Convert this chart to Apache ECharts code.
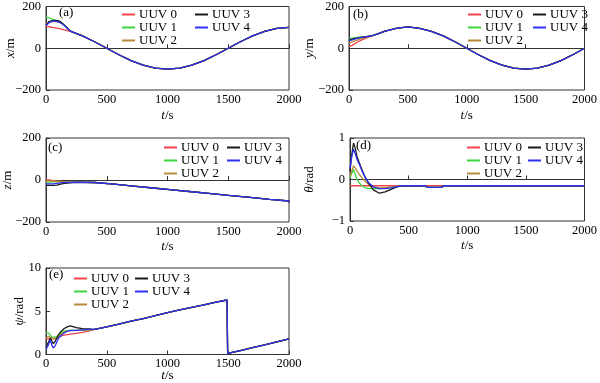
<!DOCTYPE html>
<html>
<head>
<meta charset="utf-8">
<script src="https://cdn.jsdelivr.net/npm/echarts@6/dist/echarts.min.js"></script>
<style>html,body{margin:0;padding:0;background:#fff;}#c{width:600px;height:383px;}</style>
</head>
<body>
<div id="c"></div>
<script>
// ---------- DATA ----------
const names = ['UUV 0', 'UUV 1', 'UUV 2', 'UUV 3', 'UUV 4'];
const colors = ['#f0454b', '#3ad83a', '#b58a3a', '#1a1a1a', '#3030f0'];
const xTicks = [0, 500, 1000, 1500, 2000];

// (a) x/m
const tA = [0, 25, 50, 75, 100, 125, 150, 175, 200];
const xA0 = [105, 103, 100, 98, 95, 92, 88, 85, 81];
const xA1 = [148, 146, 140, 135, 130, 122, 112, 98, 83];
const xA2 = [118, 125, 128, 128, 126, 120, 110, 97, 82];
const xA3 = [110, 128, 132, 133, 132, 125, 112, 97, 82];
const xA4 = [108, 122, 130, 130, 127, 120, 110, 96, 82];
const tAT = [300, 400, 500, 600, 700, 800, 900, 1000, 1100, 1200, 1300, 1400, 1500, 1600, 1700, 1800, 1900, 2000];
const xAT = [59, 31, 0, -31, -59, -81, -95, -100, -95, -81, -59, -31, 0, 31, 59, 81, 95, 100];

// (b) y/m
const tB = [0, 25, 50, 75, 100, 150, 200, 250];
const yB0 = [8, 14, 22, 30, 38, 50, 60, 70];
const yB1 = [45, 48, 50, 52, 54, 57, 62, 70];
const yB2 = [25, 30, 35, 40, 45, 53, 60, 70];
const yB3 = [40, 44, 47, 50, 52, 56, 61, 70];
const yB4 = [35, 40, 44, 48, 51, 56, 61, 70];
const tBT = [300, 400, 500, 600, 700, 800, 900, 1000, 1100, 1200, 1300, 1400, 1500, 1600, 1700, 1800, 1900, 2000];
const yBT = [81, 95, 102, 95, 81, 59, 31, 0, -31, -59, -81, -95, -100, -95, -81, -59, -31, 0];

// (c) z/m
const tC = [0, 30, 60, 90, 120, 150, 200];
const zC0 = [0, -3, -8, -9, -10, -10, -10];
const zC1 = [-10, -9, -8, -8, -9, -10, -10];
const zC2 = [-4, -5, -6, -7, -8, -9, -10];
const zC3 = [-26, -26, -24, -20, -16, -13, -11];
const zC4 = [-18, -18, -16, -14, -12, -11, -10];
const tCT = [250, 400, 560, 720, 880, 1040, 1200, 1360, 1520, 1680, 1840, 2000];
const zCT = [-12, -20, -29, -38, -47, -56, -65, -74, -83, -92, -100, -107];

// (d) theta/rad
const tD = [0, 15, 30, 45, 60, 80, 100, 130, 160, 200, 250, 300, 350, 400, 450];
const thD0 = [-0.15, -0.15, -0.15, -0.15, -0.15, -0.15, -0.15, -0.15, -0.15, -0.15, -0.15, -0.15, -0.15, -0.15, -0.15];
const thD1 = [0.04, 0.15, 0.24, 0.12, 0.0, -0.08, -0.15, -0.2, -0.22, -0.22, -0.22, -0.21, -0.19, -0.17, -0.15];
const thD2 = [0.08, 0.2, 0.33, 0.28, 0.2, 0.12, 0.05, -0.05, -0.12, -0.18, -0.2, -0.2, -0.18, -0.16, -0.15];
const thD3 = [0.2, 0.6, 0.88, 0.75, 0.55, 0.4, 0.25, 0.05, -0.1, -0.25, -0.33, -0.3, -0.24, -0.18, -0.15];
const thD4 = [0.28, 0.55, 0.73, 0.62, 0.48, 0.36, 0.22, 0.05, -0.08, -0.18, -0.22, -0.22, -0.2, -0.17, -0.15];
const tDT = [640, 660, 780, 800, 2000];
const thDT0 = [-0.15, -0.15, -0.15, -0.15, -0.15];
const thDT = [-0.15, -0.19, -0.19, -0.15, -0.15];

// (e) psi/rad
const tE = [0, 20, 35, 50, 60, 75, 100, 125, 150, 175, 200, 250, 300, 350];
const psE0 = [1.8, 1.8, 1.8, 1.8, 1.8, 1.85, 2.0, 2.15, 2.25, 2.3, 2.35, 2.45, 2.55, 2.7];
const psE1 = [2.5, 2.5, 2.5, 2.0, 1.95, 2.0, 2.2, 2.5, 2.7, 2.75, 2.8, 2.8, 2.8, 2.85];
const psE2 = [1.9, 2.1, 2.2, 1.9, 1.7, 1.8, 2.0, 2.3, 2.6, 2.7, 2.8, 2.8, 2.85, 2.85];
const psE3 = [0.9, 1.4, 1.9, 1.5, 1.25, 1.5, 2.2, 2.7, 3.0, 3.2, 3.3, 3.1, 3.0, 2.95];
const psE4 = [0.6, 1.1, 1.7, 1.0, 0.75, 1.0, 1.8, 2.2, 2.5, 2.7, 2.75, 2.8, 2.85, 2.9];
const tET = [400, 500, 600, 700, 800, 900, 1000, 1100, 1200, 1300, 1400, 1490, 1495, 1600, 1700, 1800, 1900, 2000];
const psET = [2.9, 3.2, 3.5, 3.85, 4.15, 4.5, 4.85, 5.15, 5.45, 5.75, 6.05, 6.3, 0.12, 0.45, 0.8, 1.1, 1.45, 1.8];

const panelLabels = ['(a)', '(b)', '(c)', '(d)', '(e)'];
const yNames = ['{i|x}/m', '{i|y}/m', '{i|z}/m', '{i|θ}/rad', '{i|ψ}/rad'];
const yMin = [-200, -200, -200, -1, 0];
const yMax = [200, 200, 200, 1, 10];
const yInterval = [200, 200, 200, 1, 5];

// ---------- BUILD ----------
const FONT = "'Liberation Serif', 'Times New Roman', serif";
function pairs(t, v) { return t.map((x, i) => [x, v[i]]); }

const heads = [
  [tA, [xA0, xA1, xA2, xA3, xA4], tAT, [xAT, xAT, xAT, xAT, xAT]],
  [tB, [yB0, yB1, yB2, yB3, yB4], tBT, [yBT, yBT, yBT, yBT, yBT]],
  [tC, [zC0, zC1, zC2, zC3, zC4], tCT, [zCT, zCT, zCT, zCT, zCT]],
  [tD, [thD0, thD1, thD2, thD3, thD4], tDT, [thDT0, thDT, thDT, thDT, thDT]],
  [tE, [psE0, psE1, psE2, psE3, psE4], tET, [psET, psET, psET, psET, psET]]
];

const grids = [
  { left: 46, top: 5, width: 243, height: 85 },
  { left: 349, top: 5, width: 244, height: 85 },
  { left: 46, top: 138, width: 243, height: 84 },
  { left: 350, top: 138, width: 243, height: 83 },
  { left: 46, top: 268, width: 243, height: 89 }
];
const xNameGap = [19.5, 19.5, 18.5, 18.5, 14.5];
const yNameGap = [28.5, 32.5, 32, 33.5, 19.5];
const legendPos = [
  [122, 195, 8], [468, 533, 8], [164, 227, 141], [467, 528, 141], [74, 135, 272]
];
const labelPos = [[59, 13], [353, 15], [48, 148], [356, 146], [49, 275]];

const xAxes = [], yAxes = [], series = [], legends = [], graphics = [];
const txt = { fontFamily: FONT, fontSize: 12.5, color: '#000' };
for (let p = 0; p < 5; p++) {
  xAxes.push({
    gridIndex: p, type: 'value', min: 0, max: 2000, interval: 500,
    name: '{i|t}/s', nameLocation: 'middle', nameGap: xNameGap[p], nameMoveOverlap: false,
    nameTextStyle: { fontFamily: FONT, fontSize: 13, color: '#000',
      rich: { i: { fontFamily: FONT, fontSize: 13, fontStyle: 'italic', color: '#000' } } },
    axisLine: { lineStyle: { color: '#333' } },
    axisTick: { inside: true, length: 4, lineStyle: { color: '#333' } },
    axisLabel: Object.assign({ margin: 3, formatter: v => String(v) }, txt),
    splitLine: { show: false }
  });
  yAxes.push({
    gridIndex: p, type: 'value', min: yMin[p], max: yMax[p], interval: yInterval[p],
    name: yNames[p], nameLocation: 'middle', nameGap: yNameGap[p], nameMoveOverlap: false,
    nameTextStyle: { fontFamily: FONT, fontSize: 13, color: '#000',
      rich: { i: { fontFamily: FONT, fontSize: 13, fontStyle: 'italic', color: '#000' } } },
    axisLine: { lineStyle: { color: '#333' } },
    axisTick: { inside: true, length: 4, lineStyle: { color: '#333' } },
    axisLabel: Object.assign({ margin: 5, formatter: v => String(v).replace('-', '\u2212') }, txt),
    splitLine: { show: false }
  });
  const h = heads[p];
  for (let k = 0; k < 5; k++) {
    series.push({
      type: 'line', name: names[k], xAxisIndex: p, yAxisIndex: p,
      data: pairs(h[0], h[1][k]).concat(pairs(h[2], h[3][k])),
      step: p === 2 ? 'end' : false,
      showSymbol: false, symbol: 'none', animation: false,
      color: colors[k], lineStyle: { width: 1.3, color: colors[k] }
    });
  }
  const lp = legendPos[p];
  const legCommon = {
    orient: 'vertical', top: lp[2], padding: 0, itemGap: 0,
    icon: 'rect', itemWidth: 13, itemHeight: 2,
    textStyle: { fontFamily: FONT, fontSize: 13, color: '#000', lineHeight: 13, padding: [0, 0, 0, -1] }
  };
  legends.push(Object.assign({ left: lp[0], data: names.slice(0, 3) }, legCommon));
  legends.push(Object.assign({ left: lp[1], data: names.slice(3) }, legCommon));
  graphics.push({
    type: 'text', left: labelPos[p][0], top: labelPos[p][1] - 7,
    style: { text: panelLabels[p], fontFamily: FONT, fontSize: 13, fill: '#000' }
  });
}

const chart = echarts.init(document.getElementById('c'), null, { renderer: 'canvas' });
chart.setOption({
  animation: false,
  backgroundColor: '#fff',
  grid: grids.map(g => Object.assign({ show: true, borderColor: '#333', borderWidth: 1, backgroundColor: 'transparent' }, g)),
  xAxis: xAxes, yAxis: yAxes, legend: legends, series: series, graphic: graphics
});
</script>
</body>
</html>
